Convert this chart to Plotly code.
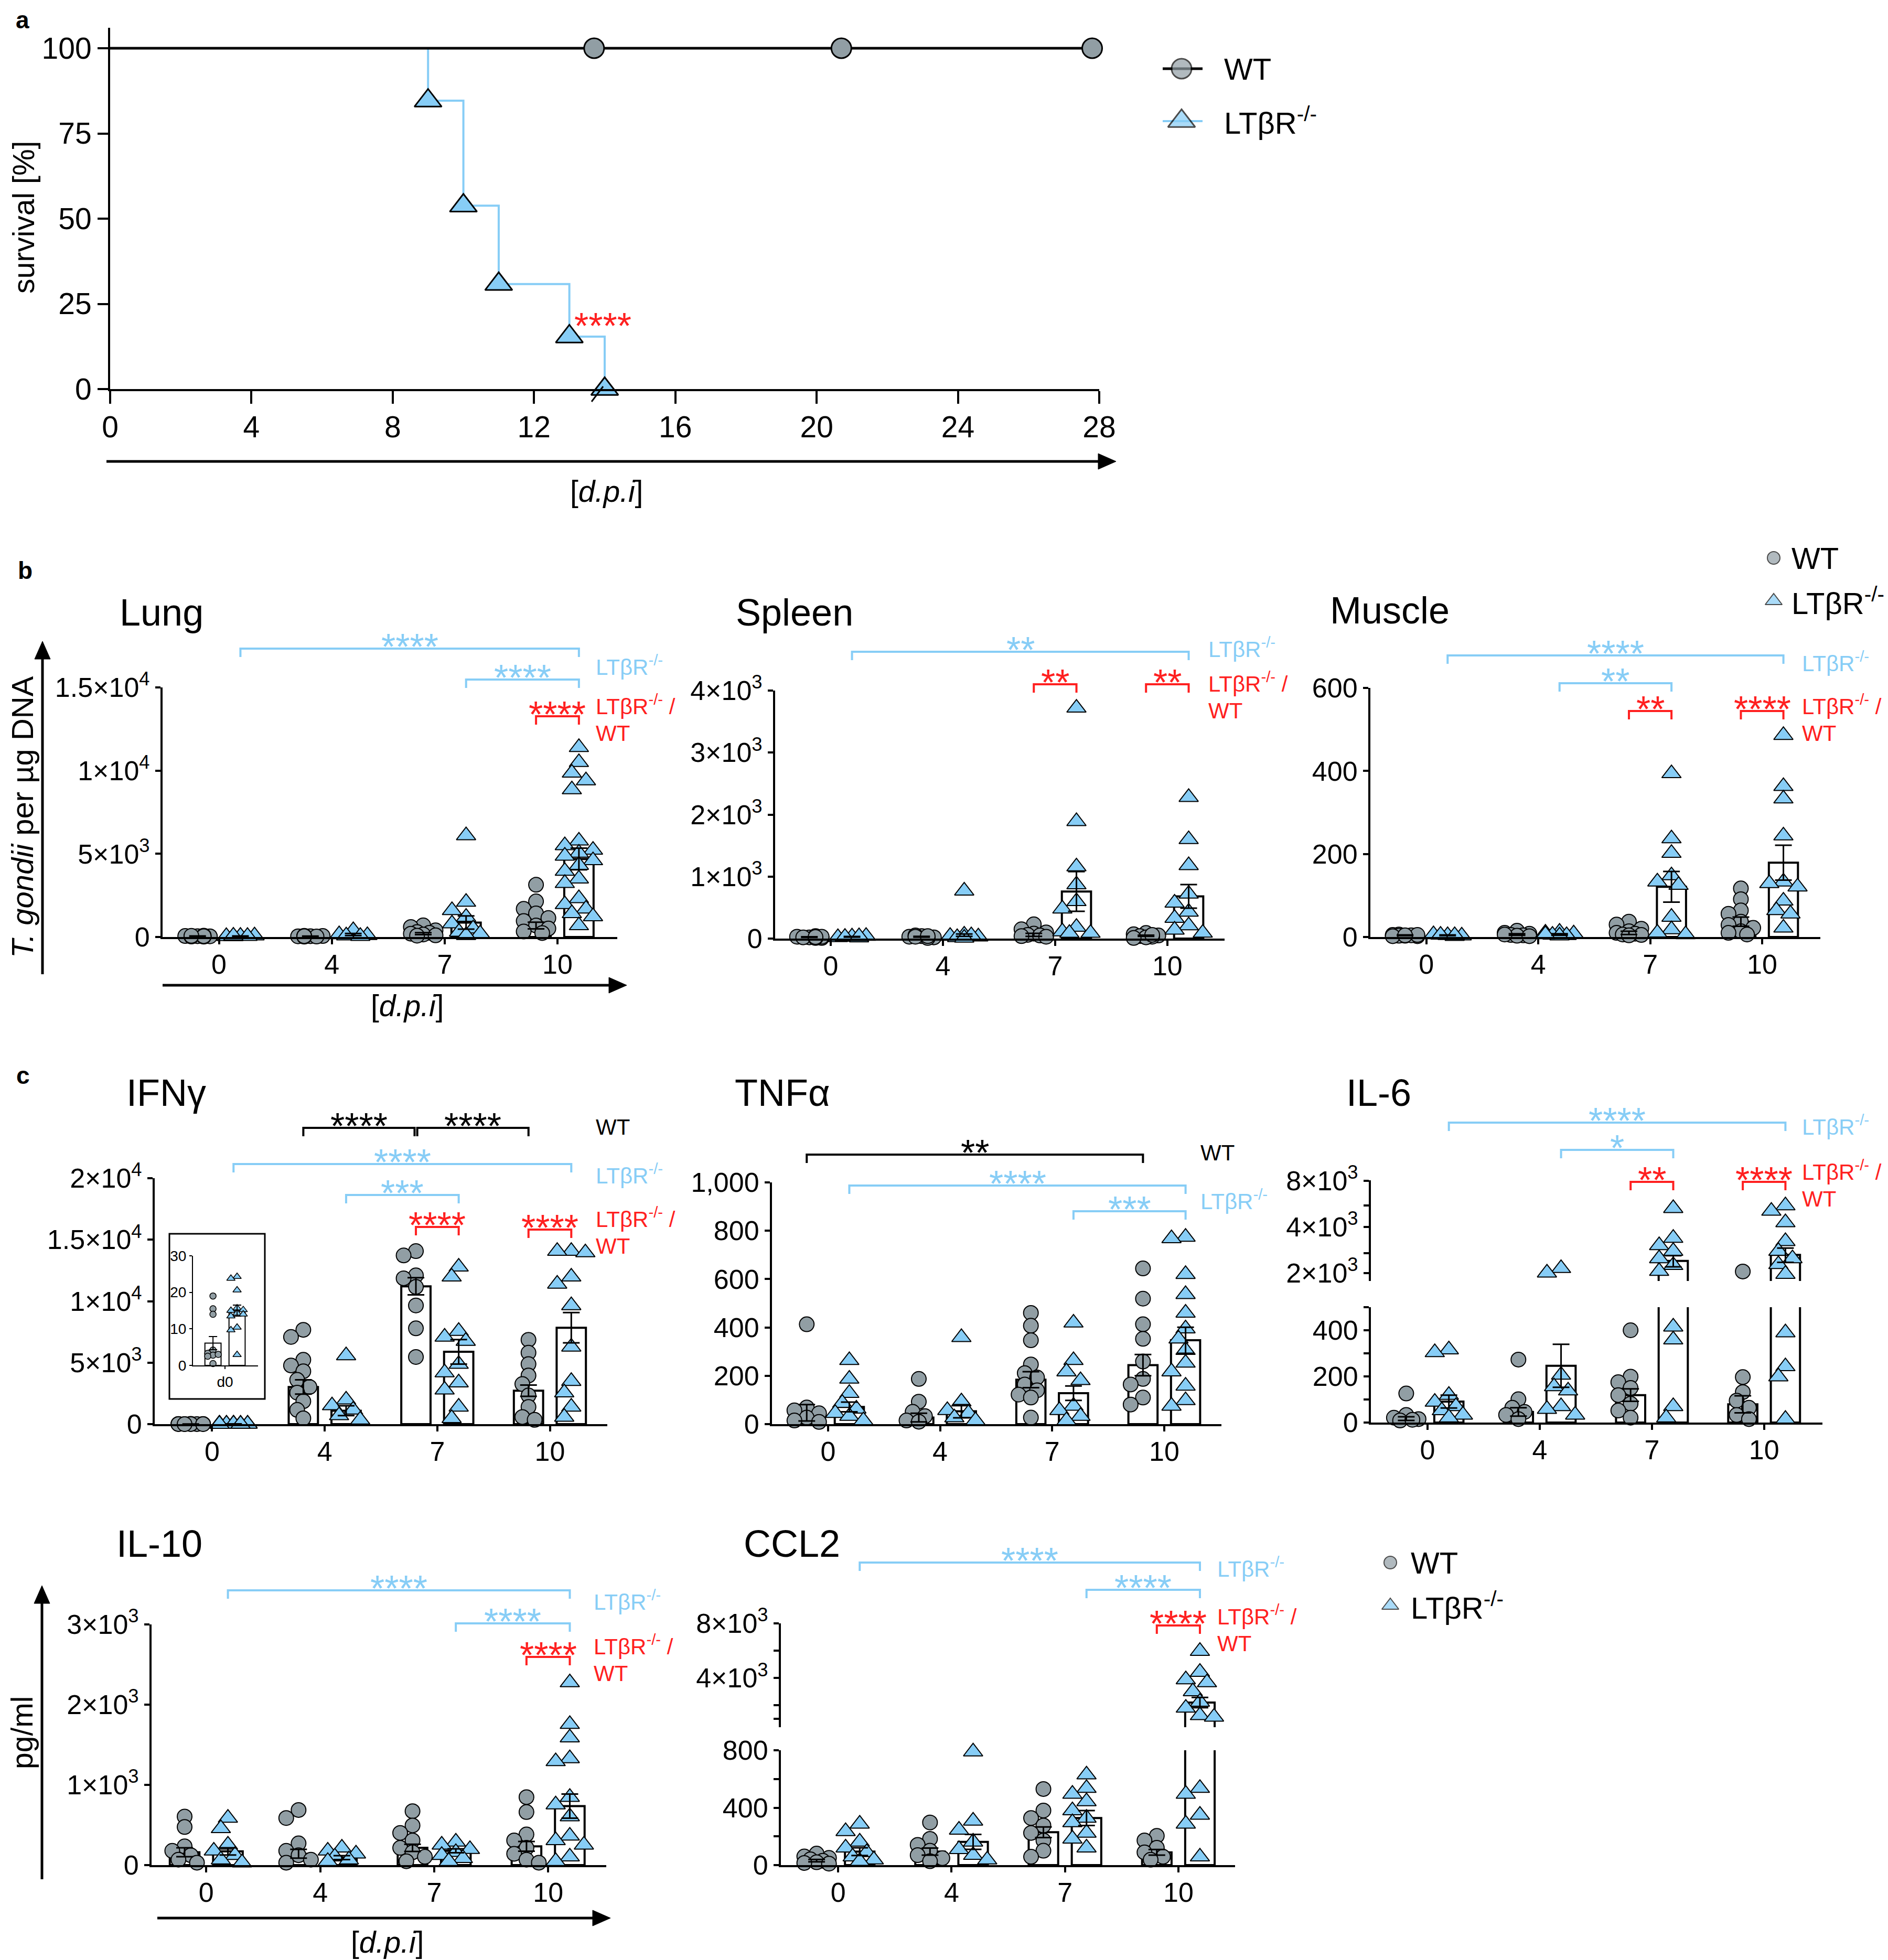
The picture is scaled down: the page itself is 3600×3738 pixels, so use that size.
import math
import plotly.graph_objects as go

W, H = 3600, 3738
PAGE_PAD = 8  # default body margin of the html page
FW, FH = W - PAGE_PAD, H - PAGE_PAD
FONT = 'Liberation Sans, Arial, Helvetica, sans-serif'
BLUE = '#87cdf6'
GRAY = '#919ea4'
RED = '#ff2020'

# ---------------- data ----------------
# a: survival
surv_days_ltbr = [0, 9, 10, 11, 13, 14]
surv_ltbr = [100, 84.6, 53.8, 30.8, 15.4, 0]
surv_days_wt = [0, 28]
surv_wt = [100, 100]
censor_days_wt = [13.7, 20.7, 27.8]
censor_wt = [100, 100, 100]

days = ['0', '4', '7', '10']

# b: T. gondii per ug DNA (one list per day: 0, 4, 7, 10)
lung_wt = [[50, 60, 40, 80, 30, 20, 50, 70], [50, 40, 60, 30, 70, 20, 50],
           [700, 600, 400, 300, 250, 200, 150, 100, 80],
           [3140, 2140, 1690, 1420, 1140, 960, 690, 510, 330, 240]]
lung_wt_mean = [50, 45, 200, 690]
lung_wt_sem = [10, 10, 60, 200]
lung_lt = [[60, 40, 80, 50, 30, 70], [400, 150, 100, 80, 50],
           [6100, 2100, 1600, 1200, 800, 500, 300, 200, 100],
           [11400, 10500, 9860, 9400, 8860, 5780, 5500, 5230, 5050, 4870, 4600, 4320,
            3960, 3500, 3230, 2320, 1960, 1690, 1420, 1230, 690]]
lung_lt_mean = [55, 150, 870, 4690]
lung_lt_sem = [10, 60, 400, 650]

spleen_wt = [[20, 30, 10, 40, 20, 30, 10, 25], [40, 30, 20, 50, 10, 30, 40],
             [230, 150, 100, 80, 60, 50, 40, 30], [90, 70, 50, 40, 30, 20, 60, 10]]
spleen_wt_mean = [25, 30, 60, 45]
spleen_wt_sem = [5, 6, 25, 10]
spleen_lt = [[30, 20, 40, 25, 15, 35], [770, 60, 40, 30, 20, 50, 10],
             [3720, 1890, 1160, 870, 600, 480, 185, 112, 88, 88],
             [2280, 1600, 1180, 720, 575, 430, 330, 210, 140, 90]]
spleen_lt_mean = [28, 55, 760, 680]
spleen_lt_sem = [5, 20, 320, 190]

muscle_wt = [[3, 5, 2, 4, 6, 3, 2, 5, 4], [15, 10, 8, 5, 4, 3, 6, 2],
             [37, 30, 20, 14, 10, 8, 6, 5, 4], [117, 91, 64, 56, 37, 29, 22, 14, 10, 6]]
muscle_wt_mean = [4, 6, 10, 37]
muscle_wt_sem = [1, 2, 4, 11]
muscle_lt = [[4, 6, 3, 5, 2, 4], [12, 10, 8, 5, 4, 3, 6],
             [394, 237, 202, 148, 133, 125, 48, 18, 10, 6],
             [486, 363, 333, 244, 133, 129, 121, 87, 64, 56, 22]]
muscle_lt_mean = [4, 6, 121, 179]
muscle_lt_sem = [1, 2, 37, 42]

# c: cytokines, pg/ml
ifng_wt = [[19, 15.5, 14, 4.2, 3.3, 2.8, 3, 2.5, 0.5],
           [7670, 7090, 5230, 4770, 4300, 3600, 3020, 2560, 1860, 1160, 470],
           [14070, 13720, 12100, 11860, 11160, 9650, 7790, 5460],
           [6860, 5810, 4880, 3950, 3260, 2330, 1400, 580, 350]]
ifng_wt_mean = [6.1, 3020, 11210, 2720]
ifng_wt_sem = [1.8, 580, 700, 460]
ifng_lt = [[24.3, 23.8, 20.6, 15.7, 15, 15.2, 14.3, 14, 13.5, 10.4, 9.7, 2.9],
           [5580, 1980, 1510, 1160, 700, 350],
           [12790, 11980, 7560, 7090, 6750, 4880, 4190, 3370, 2790, 1400, 470],
           [14070, 14070, 13950, 11980, 11400, 9650, 6280, 3490, 2560, 1400, 580]]
ifng_lt_mean = [15, 1090, 5880, 7840]
ifng_lt_sem = [1.5, 400, 1000, 1230]

tnfa_wt = [[413, 69, 57, 45, 27, 15, 9], [187, 93, 51, 33, 15, 10],
           [460, 407, 347, 247, 211, 193, 164, 140, 122, 110, 27],
           [644, 519, 413, 353, 259, 187, 164, 110, 81]]
tnfa_wt_mean = [47, 27, 184, 244]
tnfa_wt_sem = [34, 18, 33, 44]
tnfa_lt = [[264, 187, 128, 87, 63, 45, 33, 15], [359, 93, 57, 45, 27, 15],
           [419, 264, 217, 181, 75, 57, 33, 15],
           [774, 768, 620, 537, 460, 395, 353, 306, 253, 217, 158, 98, 75]]
tnfa_lt_mean = [71, 53, 128, 347]
tnfa_lt_sem = [20, 27, 30, 54]

il6_wt = [[126, 33, 21, 15, 9, 12], [273, 101, 64, 46, 33, 15],
          [400, 199, 175, 150, 119, 82, 52, 21], [2050, 197, 132, 95, 64, 33, 15]]
il6_wt_mean = [17, 46, 119, 79]
il6_wt_sem = [8, 18, 27, 37]
il6_lt = [[316, 304, 119, 89, 70, 52, 33, 21], [2150, 2010, 206, 156, 138, 70, 58, 33],
          [5280, 3380, 3030, 2780, 2490, 2250, 2060, 415, 359, 70, 21],
          [5500, 5070, 4270, 3220, 2780, 2490, 2280, 1970, 390, 243, 199, 15]]
il6_lt_mean = [91, 246, 2400, 2630]
il6_lt_sem = [28, 93, 200, 280]

il10_wt = [[605, 475, 234, 178, 123, 67, 30], [687, 587, 271, 178, 123, 67, 30],
           [672, 494, 401, 308, 215, 160, 104, 48], [847, 661, 382, 308, 215, 141, 67, 30]]
il10_wt_mean = [160, 141, 215, 234]
il10_wt_sem = [55, 55, 45, 60]
il10_lt = [[587, 457, 252, 178, 123, 67, 30], [215, 178, 141, 104, 67, 48],
           [290, 252, 197, 160, 123, 85, 48],
           [2276, 1756, 1589, 1329, 1292, 847, 754, 605, 364, 308, 252, 104, 48]]
il10_lt_mean = [171, 93, 178, 735]
il10_lt_sem = [45, 25, 25, 150]

ccl2_wt = [[80, 60, 50, 40, 30, 20, 15, 10], [297, 183, 141, 100, 69, 48, 27],
           [530, 380, 328, 276, 224, 172, 100, 58], [204, 172, 121, 89, 58, 37]]
ccl2_wt_mean = [31, 94, 229, 89]
ccl2_wt_sem = [8, 25, 37, 20]
ccl2_lt = [[287, 235, 162, 121, 89, 58, 37, 27], [790, 308, 245, 162, 110, 69, 37],
           [630, 536, 495, 443, 380, 328, 297, 224, 183, 121],
           [5966, 4434, 3888, 3669, 3013, 2247, 1809, 1260, 1150, 536, 495, 349, 287, 58]]
ccl2_lt_mean = [94, 162, 328, 2200]
ccl2_lt_sem = [27, 52, 52, 375]

# ---------------- helpers ----------------
fig = go.Figure()
shapes, annots, lay = [], [], {}
n_ax = [0]
WT_OFF, LT_OFF, BAR_W = -0.19, 0.19, 0.26
DAY_TICKS = ([0, 1, 2, 3], days)
STAR_SIZE = 70
LABEL_SIZE = 42


def fx(px):
    return (px - PAGE_PAD) / FW


def fy(py):
    return 1 - (py - PAGE_PAD) / FH


def sup(m, e):
    return f'{m}×10<sup>{e}</sup>'


def new_axes(xpx, ypx, xrange, yrange, xticks=None, yticks=None, ytype='linear',
             xshow=True, fs=52, lw=4, tl=10, xstand=-6):
    n_ax[0] += 1
    s = '' if n_ax[0] == 1 else str(n_ax[0])
    common = dict(showgrid=False, zeroline=False, showline=True, linecolor='black',
                  linewidth=lw, ticks='outside', tickcolor='black', tickwidth=lw,
                  ticklen=tl, automargin=False,
                  tickfont=dict(family=FONT, size=fs, color='black'))
    xa = dict(common, domain=[fx(xpx[0]), fx(xpx[1])], range=list(xrange),
              anchor='y' + s, visible=xshow, ticklabelstandoff=xstand)
    ya = dict(common, domain=[fy(ypx[1]), fy(ypx[0])], range=list(yrange),
              type=ytype, anchor='x' + s)
    if xticks:
        xa.update(tickmode='array', tickvals=xticks[0], ticktext=xticks[1])
    if yticks:
        ya.update(tickmode='array', tickvals=yticks[0], ticktext=yticks[1])
    lay['xaxis' + s] = xa
    lay['yaxis' + s] = ya
    return 'x' + s, 'y' + s


def make_scale(ypx, yrange, log=False):
    top, bot = ypx
    lo, hi = yrange

    def f(v):
        u = math.log10(max(v, 1e-9)) if log else v
        return bot - (u - lo) / (hi - lo) * (bot - top)
    return f


def swarm(vals, to_px, size, cat_px):
    placed, offs = [], []
    step, need = 0.42 * size, 0.7 * size
    for v in vals:
        py = to_px(v)
        best, best_d = 0.0, -1
        for k in (0, -1, 1, -2, 2):
            ox = k * step
            d = min([math.hypot(ox - a, py - b) for a, b in placed] or [1e9])
            if d >= need:
                best = ox
                break
            if d > best_d:
                best, best_d = ox, d
        placed.append((best, py))
        offs.append(best / cat_px)
    return offs


def add_group(xa, ya, vals, mean, sem, off, kind, to_px, cat_px, keep=None,
              size=None, bw=BAR_W, blw=4, ebw=16, ebt=3, mlw=2):
    if size is None:
        size = 28 if kind == 'wt' else 32
    sym = 'circle' if kind == 'wt' else 'triangle-up'
    col = GRAY if kind == 'wt' else BLUE
    xs = [i + off for i in range(len(mean))]
    fig.add_trace(go.Bar(x=xs, y=mean, width=bw, xaxis=xa, yaxis=ya,
                         marker=dict(color='white', line=dict(color='black', width=blw))))
    px_, py_ = [], []
    for i, dv in enumerate(vals):
        for v, o in zip(dv, swarm(dv, to_px, size, cat_px)):
            if keep is None or keep(v):
                px_.append(i + off + o)
                py_.append(v)
    fig.add_trace(go.Scatter(x=px_, y=py_, mode='markers', xaxis=xa, yaxis=ya, cliponaxis=False,
                             marker=dict(symbol=sym, size=size, color=col,
                                         line=dict(color='black', width=mlw))))
    ex = [x for x, m in zip(xs, mean) if keep is None or keep(m)]
    ey = [m for m in mean if keep is None or keep(m)]
    es = [s for s, m in zip(sem, mean) if keep is None or keep(m)]
    if ex:
        fig.add_trace(go.Scatter(x=ex, y=ey, mode='markers', xaxis=xa, yaxis=ya,
                                 marker=dict(size=1, color='rgba(0,0,0,0)'),
                                 error_y=dict(type='data', array=es, visible=True, color='black',
                                              thickness=ebt, width=ebw)))


def g(day, grp):
    return day + (WT_OFF if grp == 'wt' else LT_OFF)


def bracket(xa, x0, x1, ypx, color, stars, drop=16, lw=4):
    path = (f'M{x0},{fy(ypx + drop)} L{x0},{fy(ypx)} L{x1},{fy(ypx)} L{x1},{fy(ypx + drop)}')
    shapes.append(dict(type='path', xref=xa, yref='paper', path=path,
                       line=dict(color=color, width=lw)))
    annots.append(dict(xref=xa, yref='paper', x=(x0 + x1) / 2, y=fy(ypx - 22 + 19),
                       text=stars, showarrow=False, xanchor='center', yanchor='middle',
                       font=dict(family=FONT, size=STAR_SIZE, color=color)))


def text(x, y, t, size, color='black', xanchor='left', angle=0):
    annots.append(dict(xref='paper', yref='paper', x=fx(x), y=fy(y), text=t, showarrow=False,
                       xanchor=xanchor, yanchor='middle', textangle=angle,
                       font=dict(family=FONT, size=size, color=color)))


def side_labels(x, y_wt=None, y_lt=None, y_red=None):
    if y_wt is not None:
        text(x, y_wt, 'WT', LABEL_SIZE)
    if y_lt is not None:
        text(x, y_lt, 'LTβR<sup>-/-</sup>', LABEL_SIZE, BLUE)
    if y_red is not None:
        text(x, y_red, 'LTβR<sup>-/-</sup> /', LABEL_SIZE, RED)
        text(x, y_red + 54, 'WT', LABEL_SIZE, RED)


def arrow(x0, y0, x1, y1, lw=5, hl=34, hw=15):
    dx, dy = x1 - x0, y1 - y0
    L = math.hypot(dx, dy)
    ux, uy = dx / L, dy / L
    bx, by = x1 - ux * hl, y1 - uy * hl
    shapes.append(dict(type='line', xref='paper', yref='paper', x0=fx(x0), y0=fy(y0),
                       x1=fx(bx), y1=fy(by), line=dict(color='black', width=lw)))
    p1 = (bx - uy * hw, by + ux * hw)
    p2 = (bx + uy * hw, by - ux * hw)
    shapes.append(dict(type='path', xref='paper', yref='paper',
                       path=f'M{fx(x1)},{fy(y1)} L{fx(p1[0])},{fy(p1[1])} L{fx(p2[0])},{fy(p2[1])} Z',
                       fillcolor='black', line=dict(color='black', width=1)))


# ---------------- a: survival ----------------
xa, ya = new_axes((210, 2096), (53, 742), (0, 28), (0, 106),
                  (list(range(0, 29, 4)), [str(v) for v in range(0, 29, 4)]),
                  ([0, 25, 50, 75, 100], ['0', '25', '50', '75', '100']), fs=57, tl=24,
                  xstand=-4)
lay['yaxis']['ticklen'] = 20
fig.add_trace(go.Scatter(x=surv_days_ltbr, y=surv_ltbr, mode='lines', xaxis=xa, yaxis=ya,
                         line=dict(shape='hv', color=BLUE, width=4)))
fig.add_trace(go.Scatter(x=surv_days_wt, y=surv_wt, mode='lines', xaxis=xa, yaxis=ya,
                         line=dict(color='black', width=5)))
fig.add_trace(go.Scatter(x=censor_days_wt, y=censor_wt, mode='markers', xaxis=xa, yaxis=ya,
                         cliponaxis=False,
                         marker=dict(symbol='circle', size=38, color=GRAY,
                                     line=dict(color='black', width=3))))
fig.add_trace(go.Scatter(x=surv_days_ltbr[1:], y=surv_ltbr[1:], mode='markers', xaxis=xa,
                         yaxis=ya, cliponaxis=False,
                         marker=dict(symbol='triangle-up', size=45, color=BLUE,
                                     line=dict(color='black', width=3))))
shapes.append(dict(type='line', xref='paper', yref='paper', x0=fx(1128), y0=fy(766),
                   x1=fx(1150), y1=fy(737), line=dict(color='black', width=3)))
text(1149, 603 + 19, '****', STAR_SIZE, RED, 'center')
text(28, 38, '<b>a</b>', 46)
text(45, 415, 'survival [%]', 57, xanchor='center', angle=-90)
arrow(203, 880, 2128, 880)
text(1156, 937, '[<i>d.p.i</i>]', 57, xanchor='center')

# ---------------- b: parasite load ----------------
text(32, 1088, '<b>b</b>', 46)

# Lung
xa, ya = new_axes((310, 1177), (1311, 1787), (-0.5, 3.53), (0, 15000), DAY_TICKS,
                  ([0, 5000, 10000, 15000], ['0', sup(5, 3), sup(1, 4), sup(1.5, 4)]))
sc = make_scale((1311, 1787), (0, 15000))
add_group(xa, ya, lung_wt, lung_wt_mean, lung_wt_sem, WT_OFF, 'wt', sc, 215)
add_group(xa, ya, lung_lt, lung_lt_mean, lung_lt_sem, LT_OFF, 'lt', sc, 215)
bracket(xa, g(0, 'lt'), g(3, 'lt'), 1237, BLUE, '****')
bracket(xa, g(2, 'lt'), g(3, 'lt'), 1296, BLUE, '****')
bracket(xa, g(3, 'wt'), g(3, 'lt'), 1366, RED, '****')
side_labels(1134, y_lt=1269, y_red=1344)
text(226, 1168, 'Lung', 72)
text(42, 1558, '<i>T. gondii</i> per µg DNA', 58, xanchor='center', angle=-90)
arrow(81, 1858, 81, 1223)
arrow(310, 1879, 1195, 1879)
text(776, 1918, '[<i>d.p.i</i>]', 57, xanchor='center')

# Spleen
xa, ya = new_axes((1478, 2335), (1317, 1790), (-0.495, 3.51), (0, 4000), DAY_TICKS,
                  ([0, 1000, 2000, 3000, 4000], ['0', sup(1, 3), sup(2, 3), sup(3, 3), sup(4, 3)]))
sc = make_scale((1317, 1790), (0, 4000))
add_group(xa, ya, spleen_wt, spleen_wt_mean, spleen_wt_sem, WT_OFF, 'wt', sc, 214)
add_group(xa, ya, spleen_lt, spleen_lt_mean, spleen_lt_sem, LT_OFF, 'lt', sc, 214)
bracket(xa, g(0, 'lt'), g(3, 'lt'), 1243, BLUE, '**')
bracket(xa, g(2, 'wt'), g(2, 'lt'), 1305, RED, '**')
bracket(xa, g(3, 'wt'), g(3, 'lt'), 1305, RED, '**')
side_labels(2302, y_lt=1235, y_red=1301)
text(1401, 1168, 'Spleen', 72)

# Muscle
xa, ya = new_axes((2613, 3471), (1312, 1787), (-0.5, 3.52), (0, 600), DAY_TICKS,
                  ([0, 200, 400, 600], ['0', '200', '400', '600']))
sc = make_scale((1312, 1787), (0, 600))
add_group(xa, ya, muscle_wt, muscle_wt_mean, muscle_wt_sem, WT_OFF, 'wt', sc, 213)
add_group(xa, ya, muscle_lt, muscle_lt_mean, muscle_lt_sem, LT_OFF, 'lt', sc, 213)
bracket(xa, g(0, 'lt'), g(3, 'lt'), 1250, BLUE, '****')
bracket(xa, g(1, 'lt'), g(2, 'lt'), 1303, BLUE, '**')
bracket(xa, g(2, 'wt'), g(2, 'lt'), 1356, RED, '**')
bracket(xa, g(3, 'wt'), g(3, 'lt'), 1356, RED, '****')
side_labels(3434, y_lt=1262, y_red=1344)
text(2534, 1164, 'Muscle', 72)

# ---------------- c: cytokines ----------------
text(29, 2051, '<b>c</b>', 46)

# IFNg
xa, ya = new_axes((295, 1158), (2247, 2716), (-0.51, 3.51), (0, 20000), DAY_TICKS,
                  ([0, 5000, 10000, 15000, 20000],
                   ['0', sup(5, 3), sup(1, 4), sup(1.5, 4), sup(2, 4)]))
sc = make_scale((2247, 2716), (0, 20000))
add_group(xa, ya, ifng_wt, ifng_wt_mean, ifng_wt_sem, WT_OFF, 'wt', sc, 215)
add_group(xa, ya, ifng_lt, ifng_lt_mean, ifng_lt_sem, LT_OFF, 'lt', sc, 215)
bracket(xa, g(1, 'wt'), g(2, 'wt') - 0.012, 2151, 'black', '****')
bracket(xa, g(2, 'wt') + 0.012, g(3, 'wt'), 2151, 'black', '****')
bracket(xa, g(0, 'lt'), g(3, 'lt'), 2220, BLUE, '****')
bracket(xa, g(1, 'lt'), g(2, 'lt'), 2279, BLUE, '***')
bracket(xa, g(2, 'wt'), g(2, 'lt'), 2340, RED, '****')
bracket(xa, g(3, 'wt'), g(3, 'lt'), 2345, RED, '****')
side_labels(1134, y_wt=2149, y_lt=2239, y_red=2322)
text(239, 2084, 'IFNγ', 72)

# IFNg inset (day 0)
shapes.append(dict(type='rect', xref='paper', yref='paper', x0=fx(323), x1=fx(505),
                   y0=fy(2668), y1=fy(2353), line=dict(color='black', width=3)))
xa, ya = new_axes((368, 492), (2395, 2604), (-1.33, 1.37), (0, 30), ([0], ['d0']),
                  ([0, 10, 20, 30], ['0', '10', '20', '30']), fs=28, lw=2, tl=5, xstand=0)
sc = make_scale((2395, 2604), (0, 30))
add_group(xa, ya, ifng_wt[:1], ifng_wt_mean[:1], ifng_wt_sem[:1], -0.5, 'wt', sc, 46,
          size=12, bw=0.67, blw=2, ebw=8, ebt=2, mlw=1.5)
add_group(xa, ya, ifng_lt[:1], ifng_lt_mean[:1], ifng_lt_sem[:1], 0.5, 'lt', sc, 46,
          size=14, bw=0.67, blw=2, ebw=8, ebt=2, mlw=1.5)

# TNFa
xa, ya = new_axes((1472, 2329), (2255, 2716), (-0.5, 3.51), (0, 1000), DAY_TICKS,
                  ([0, 200, 400, 600, 800, 1000], ['0', '200', '400', '600', '800', '1,000']))
sc = make_scale((2255, 2716), (0, 1000))
add_group(xa, ya, tnfa_wt, tnfa_wt_mean, tnfa_wt_sem, WT_OFF, 'wt', sc, 214)
add_group(xa, ya, tnfa_lt, tnfa_lt_mean, tnfa_lt_sem, LT_OFF, 'lt', sc, 214)
bracket(xa, g(0, 'wt'), g(3, 'wt'), 2202, 'black', '**')
bracket(xa, g(0, 'lt'), g(3, 'lt'), 2261, BLUE, '****')
bracket(xa, g(2, 'lt'), g(3, 'lt'), 2310, BLUE, '***')
side_labels(2287, y_wt=2198, y_lt=2288)
text(1399, 2084, 'TNFα', 72)

# IL-6 (broken axis)
IL6_X, IL6_XR = (2614, 3475), (-0.505, 3.52)
xb, yb = new_axes(IL6_X, (2493, 2713), IL6_XR, (0, 500), DAY_TICKS,
                  ([0, 100, 200, 300, 400, 500], ['0', '', '200', '', '400', '']))
xt, yt = new_axes(IL6_X, (2251, 2443), IL6_XR, (3.25, 3.905),
                  yticks=([2000, 2700, 4000, 5500, 8000], [sup(2, 3), '', sup(4, 3), '', sup(8, 3)]),
                  ytype='log', xshow=False)
sb = make_scale((2493, 2713), (0, 500))
st = make_scale((2251, 2443), (3.25, 3.905), log=True)
sc = lambda v: sb(v) if v <= 500 else st(v)
for xa, ya, keep in ((xb, yb, lambda v: v <= 500), (xt, yt, lambda v: v > 500)):
    add_group(xa, ya, il6_wt, il6_wt_mean, il6_wt_sem, WT_OFF, 'wt', sc, 214, keep)
    add_group(xa, ya, il6_lt, il6_lt_mean, il6_lt_sem, LT_OFF, 'lt', sc, 214, keep)
bracket(xb, g(0, 'lt'), g(3, 'lt'), 2141, BLUE, '****')
bracket(xb, g(1, 'lt'), g(2, 'lt'), 2193, BLUE, '*')
bracket(xb, g(2, 'wt'), g(2, 'lt'), 2254, RED, '**')
bracket(xb, g(3, 'wt'), g(3, 'lt'), 2254, RED, '****')
side_labels(3434, y_lt=2146, y_red=2232)
text(2565, 2084, 'IL-6', 72)

# IL-10
xa, ya = new_axes((289, 1156), (3098, 3557), (-0.48, 3.51), (0, 3000), DAY_TICKS,
                  ([0, 1000, 2000, 3000], ['0', sup(1, 3), sup(2, 3), sup(3, 3)]))
sc = make_scale((3098, 3557), (0, 3000))
add_group(xa, ya, il10_wt, il10_wt_mean, il10_wt_sem, WT_OFF, 'wt', sc, 217)
add_group(xa, ya, il10_lt, il10_lt_mean, il10_lt_sem, LT_OFF, 'lt', sc, 217)
bracket(xa, g(0, 'lt'), g(3, 'lt'), 3033, BLUE, '****')
bracket(xa, g(2, 'lt'), g(3, 'lt'), 3096, BLUE, '****')
bracket(xa, g(3, 'wt'), g(3, 'lt'), 3160, RED, '****')
side_labels(1130, y_lt=3052, y_red=3137)
text(220, 2944, 'IL-10', 72)
text(42, 3305, 'pg/ml', 57, xanchor='center', angle=-90)
arrow(80, 3584, 80, 3024)
arrow(300, 3658, 1164, 3658)
text(738, 3704, '[<i>d.p.i</i>]', 57, xanchor='center')

# CCL2 (broken axis)
CC_X, CC_XR = (1489, 2355), (-0.505, 3.5)
xb, yb = new_axes(CC_X, (3338, 3557), CC_XR, (0, 800), DAY_TICKS,
                  ([0, 200, 400, 600, 800], ['0', '', '400', '', '800']))
xt, yt = new_axes(CC_X, (3096, 3294), CC_XR, (400, 8000),
                  yticks=([1000, 2000, 4000, 6000, 8000], ['', '', sup(4, 3), '', sup(8, 3)]),
                  xshow=False)
sb = make_scale((3338, 3557), (0, 800))
st = make_scale((3096, 3294), (400, 8000))
sc = lambda v: sb(v) if v <= 800 else st(v)
for xa, ya, keep in ((xb, yb, lambda v: v <= 800), (xt, yt, lambda v: v > 800)):
    add_group(xa, ya, ccl2_wt, ccl2_wt_mean, ccl2_wt_sem, WT_OFF, 'wt', sc, 216, keep)
    add_group(xa, ya, ccl2_lt, ccl2_lt_mean, ccl2_lt_sem, LT_OFF, 'lt', sc, 216, keep)
bracket(xb, g(0, 'lt'), g(3, 'lt'), 2980, BLUE, '****')
bracket(xb, g(2, 'lt'), g(3, 'lt'), 3032, BLUE, '****')
bracket(xb, g(3, 'wt'), g(3, 'lt'), 3100, RED, '****')
side_labels(2319, y_lt=2989, y_red=3080)
text(1416, 2944, 'CCL2', 72)

# ---------------- legends (drawn on a full-page canvas axis) ----------------
n_ax[0] += 1
cs = str(n_ax[0])
lay['xaxis' + cs] = dict(domain=[0, 1], range=[PAGE_PAD, W], visible=False, anchor='y' + cs,
                         automargin=False)
lay['yaxis' + cs] = dict(domain=[0, 1], range=[H, PAGE_PAD], visible=False, anchor='x' + cs,
                         automargin=False)
cx, cy = 'x' + cs, 'y' + cs
fig.add_trace(go.Scatter(x=[2217, 2293], y=[131, 131], mode='lines', xaxis=cx, yaxis=cy,
                         line=dict(color='black', width=5)))
fig.add_trace(go.Scatter(x=[2217, 2293], y=[231, 231], mode='lines', xaxis=cx, yaxis=cy,
                         line=dict(color=BLUE, width=4)))
fig.add_trace(go.Scatter(x=[2253, 3382, 2651], y=[131, 1064, 2980], mode='markers',
                         xaxis=cx, yaxis=cy, cliponaxis=False,
                         marker=dict(symbol='circle', size=[38, 24, 24], color=GRAY,
                                     line=dict(color='black', width=[3, 2, 2]))))
fig.add_trace(go.Scatter(x=[2253, 3382, 2651], y=[231, 1146, 3062], mode='markers',
                         xaxis=cx, yaxis=cy, cliponaxis=False,
                         marker=dict(symbol='triangle-up', size=[45, 28, 28], color=BLUE,
                                     line=dict(color='black', width=[3, 2, 2]))))
for lx, ly1, ly2 in ((2332, 131, 231), (3414, 1064, 1146), (2688, 2980, 3062)):
    text(lx, ly1, 'WT', 58)
    text(lx, ly2, 'LTβR<sup>-/-</sup>', 58)

fig.update_layout(
    width=FW, height=FH, margin=dict(l=0, r=0, t=0, b=0, pad=0, autoexpand=False),
    paper_bgcolor='white', plot_bgcolor='rgba(0,0,0,0)',
    showlegend=False, barmode='overlay',
    font=dict(family=FONT, color='black'),
    shapes=shapes, annotations=annots, **lay)

fig.write_html('out.html')
